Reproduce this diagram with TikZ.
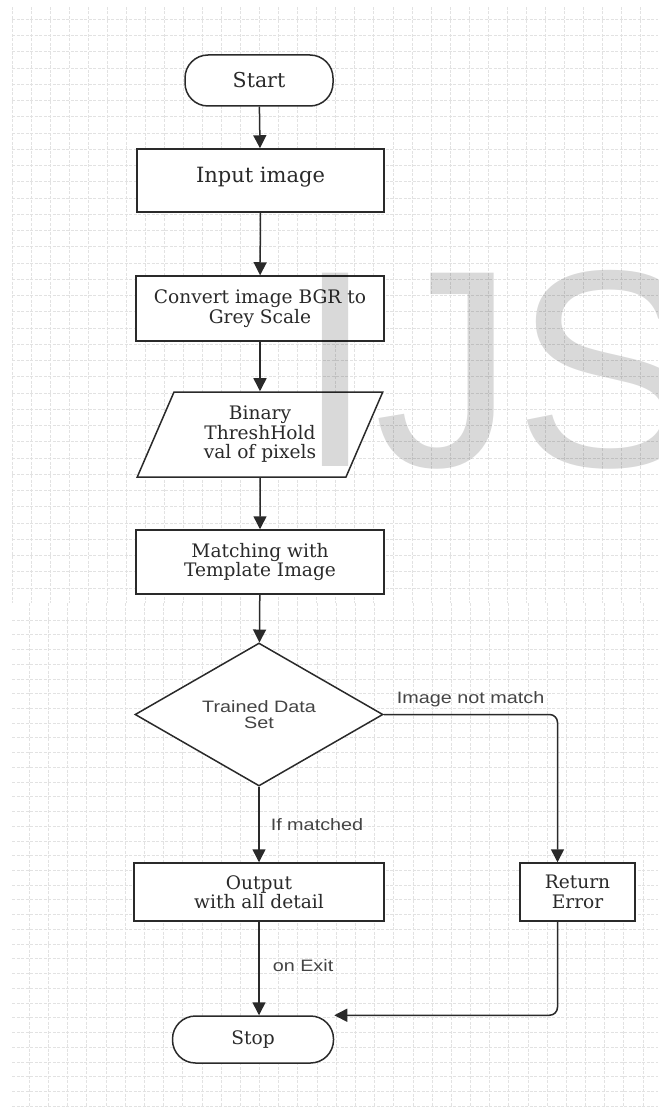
\documentclass[tikz,border=0pt]{standalone}
\usepackage{fontspec}
\setmainfont{DejaVu Serif}
\newfontfamily\lblfont[FakeStretch=1.2]{Liberation Sans}
\newfontfamily\wmfont{Liberation Sans}
\usetikzlibrary{shapes.geometric,arrows.meta}
\definecolor{ink}{HTML}{2A2A2A}
\definecolor{lblink}{HTML}{444444}
\definecolor{gridc}{HTML}{E2E2E2}
\definecolor{wmc}{HTML}{D9D9D9}
\begin{document}
\begin{tikzpicture}[x=1pt,y=-1pt,
  box/.style={draw=ink, line width=1.5pt, fill=white, text=ink, inner sep=0pt, align=center,
    font=\fontsize{18.6}{19.5}\selectfont},
  term/.style={box, rounded corners=23pt},
  flow/.style={draw=ink, line width=1.5pt, -{Triangle[width=13pt,length=13pt]}},
  lbl/.style={text=lblink, inner sep=0pt, font=\lblfont\fontsize{16.5}{16}\selectfont},
  gridline/.style={draw=gridc, line width=0.8pt, dash pattern=on 3pt off 1.5pt}]
\useasboundingbox (0,0) rectangle (658,1107);
% grid
\foreach \k in {0,...,33} \draw[gridline] ({12.7+19.01*\k},7) -- ({12.7+19.01*\k},603);
\foreach \k in {0,...,35} \draw[gridline] (12,{19.3+16.25*\k}) -- (658,{19.3+16.25*\k});
\foreach \k in {0,...,32} \draw[gridline] ({29.3+19.18*\k},603) -- ({29.3+19.18*\k},1107);
\foreach \k in {0,...,33} \draw[gridline] (12,{620+14.73*\k}) -- (658,{620+14.73*\k});
% nodes
\node[term, minimum width=148pt, minimum height=51pt, font=\fontsize{20.5}{22}\selectfont] (start) at (259,80.5) {Start};
\node[box, minimum width=247pt, minimum height=63pt, text depth=11pt, font=\fontsize{21}{22}\selectfont] (input) at (260.5,180.5) {Input image};
\node[box, minimum width=248pt, minimum height=65pt] (conv) at (260,308.5) {Convert image BGR to\\Grey Scale};
\node[box, trapezium, trapezium left angle=67, trapezium right angle=113, trapezium stretches=true,
  minimum width=246pt, minimum height=85pt] (bin) at (260,434.5) {Binary\\ThreshHold\\val of pixels};
\node[box, minimum width=248pt, minimum height=64pt] (match) at (260,562) {Matching with\\Template Image};
\node[box, diamond, aspect=1.73, minimum width=248pt, minimum height=143pt, text=lblink,
  font=\lblfont\fontsize{16.5}{16}\selectfont] (dec) at (259,714.5) {Trained Data\\Set};
\node[box, minimum width=250pt, minimum height=58pt] (out) at (259,892) {Output\\with all detail};
\node[box, minimum width=115pt, minimum height=58pt] (err) at (577.5,892) {Return\\Error};
\node[term, minimum width=161pt, minimum height=47pt] (stop) at (253,1039.5) {Stop};
\coordinate (errin) at ([xshift=-20pt]err.north);
\coordinate (errout) at ([xshift=-20pt]err.south);
% connectors
\draw[flow] (start) -- (input);
\draw[flow] (input) -- (conv);
\draw[flow] (conv) -- (bin);
\draw[flow] (bin) -- (match);
\draw[flow] (match) -- (dec);
\draw[flow] (dec.south) -- node[lbl, anchor=west, xshift=11pt] (lm) {If matched} (out.north);
\draw[flow] (out.south) -- node[lbl, anchor=west, xshift=13pt, yshift=3pt] (le) {on Exit} (out.south |- stop.north);
\draw[flow, rounded corners=8pt] (dec.east) -- node[lbl, above=7pt] (ln) {Image not match} (dec.east -| errin) -- (errin);
\draw[flow, rounded corners=8pt] (errout) |- (stop.north east);
% watermark
\begin{scope}[blend mode=multiply]
\clip (0,0) rectangle (658,1107);
\node[anchor=base west, inner sep=0pt, text=wmc, font=\wmfont\fontsize{281}{281}\selectfont] (wm) at (296,466) {IJS};
\end{scope}
\end{tikzpicture}
\end{document}
